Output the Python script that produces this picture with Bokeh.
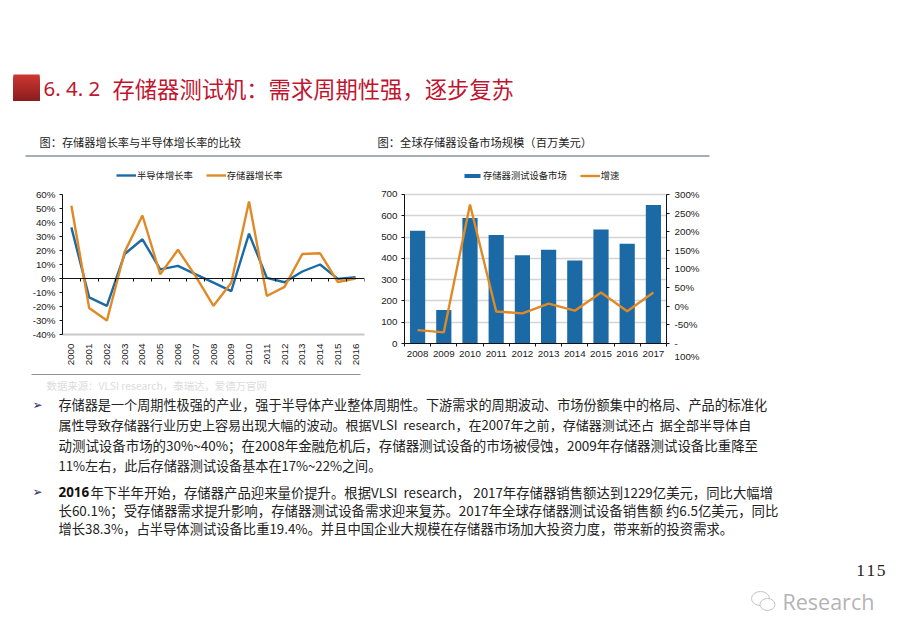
from bokeh.plotting import figure
from bokeh.layouts import column, row
from bokeh.models import Range1d, LinearAxis, FixedTicker, Legend, LegendItem, Grid
from bokeh.core.properties import value
from bokeh.embed import file_html
from bokeh.resources import INLINE

# ---- data ----
years_a = list(range(2000, 2017))
semi_growth = [36.5, -13.5, -19.5, 17.5, 28, 6.5, 9, 3, -3, -9, 32, 0.5, -2.7, 5, 10, -0.3, 1]
memory_growth = [52, -21, -30, 19, 45, 3, 20.5, 1.5, -19.5, -3, 55, -12.5, -6, 17.5, 18, -2.5, 0]
pct_ticks_a = [-40, -30, -20, -10, 0, 10, 20, 30, 40, 50, 60]

years_b = list(range(2008, 2018))
tester_market = [530, 157, 590, 510, 415, 440, 390, 535, 468, 650]
tester_growth = [-64, -70, 273, -14, -19, 7, -12, 37, -13.5, 37]
market_ticks = [0, 100, 200, 300, 400, 500, 600, 700]
pct_ticks_b = [-100, -50, 0, 50, 100, 150, 200, 250, 300]

title_num = "6. 4. 2"
title_text = "存储器测试机：需求周期性强，逐步复苏"
caption_a = "图：存储器增长率与半导体增长率的比较"
caption_b = "图：全球存储器设备市场规模（百万美元）"
source_text = "数据来源：VLSI research，泰瑞达，爱德万官网"
body_texts = [
    "存储器是一个周期性极强的产业，强于半导体产业整体周期性。下游需求的周期波动、市场份额集中的格局、产品的标准化",
    "属性导致存储器行业历史上容易出现大幅的波动。根据VLSI\u00a0\u00a0research，在2007年之前，存储器测试还占\u00a0\u00a0据全部半导体自",
    "动测试设备市场的30%~40%；在2008年金融危机后，存储器测试设备的市场被侵蚀，2009年存储器测试设备比重降至",
    "11%左右，此后存储器测试设备基本在17%~22%之间。",
    "年下半年开始，存储器产品迎来量价提升。根据VLSI\u00a0\u00a0research，\u00a02017年存储器销售额达到1229亿美元，同比大幅增",
    "长60.1%；受存储器需求提升影响，存储器测试设备需求迎来复苏。2017年全球存储器测试设备销售额\u00a0约6.5亿美元，同比",
    "增长38.3%，占半导体测试设备比重19.4%。并且中国企业大规模在存储器市场加大投资力度，带来新的投资需求。",
]
body_x = [58, 58, 58, 58, 90, 58, 58]
body_y = [404, 424, 444, 465, 491, 509, 528]
body_size = [13.14, 13.05, 13.45, 13.1, 13.37, 13.42, 13.3]

BLUE = "#1b6aa5"
ORANGE = "#df8a27"
CJK = "Noto Sans CJK SC"
LATIN = "Liberation Sans"
TXT = "#222222"
FS = "9.8px"


def canvas(y0, y1):
    f = figure(width=900, height=y1 - y0, x_range=Range1d(0, 900), y_range=Range1d(y1, y0),
               x_axis_type=None, y_axis_type=None, toolbar_location=None, output_backend="svg",
               min_border=0, outline_line_color=None, background_fill_color="white")
    f.grid.visible = False
    return f


def txt(f, x, y, s, size, color=TXT, font=CJK, style="normal", align="left"):
    f.text([x], [y], text=[s], text_font=value(font), text_font_size=size, text_color=color,
           text_baseline="middle", text_align=align, text_font_style=style)


def style_axis(ax):
    ax.major_label_text_font = LATIN
    ax.major_label_text_font_size = FS
    ax.major_label_text_color = "#1a1a1a"
    ax.axis_line_color = "#111111"
    ax.major_tick_line_color = "#111111"
    ax.minor_tick_line_color = "#111111"


# ---- header ----
top = canvas(0, 160)
for i in range(26):
    t = i / 25
    col = "#%02x%02x%02x" % (int(205 - 65 * t), int(55 - 25 * t), int(50 - 20 * t))
    top.quad(left=[13], right=[39], top=[74 + i], bottom=[100], fill_color=col, fill_alpha=1, line_color=None)
txt(top, 43, 87, title_num, "20.5px", "#c01530", "Noto Sans")
txt(top, 112, 87, title_text, "22.3px", "#c01530")
txt(top, 39, 141, caption_a, "11.2px")
txt(top, 377, 141, caption_b, "11.3px")
top.line([25, 709], [155.5, 155.5], line_color="#8a93a3", line_width=1.4)

# ---- left chart ----
a = figure(width=370, height=212, x_range=Range1d(1999.5, 2016.5), y_range=Range1d(-40, 80.7),
           x_axis_type=None, y_axis_type=None, toolbar_location=None, output_backend="svg",
           min_border_left=62, min_border_right=6, min_border_top=5, min_border_bottom=38,
           outline_line_color=None)
a.grid.visible = False
ya = LinearAxis(ticker=FixedTicker(ticks=pct_ticks_a, minor_ticks=[]), bounds=(-40, 60),
                major_label_overrides={v: f"{v}%" for v in pct_ticks_a})
style_axis(ya)
ya.major_tick_in = 0
ya.major_tick_out = 3
ya.major_label_standoff = 4
a.add_layout(ya, "left")

xa = LinearAxis(ticker=FixedTicker(ticks=years_a, minor_ticks=[]),
                major_label_overrides={v: str(v) for v in years_a})
style_axis(xa)
xa.axis_line_color = "#c8c8c8"
xa.axis_line_width = 2
xa.major_tick_line_color = None
xa.major_label_orientation = 1.5708
xa.major_label_standoff = 3
a.add_layout(xa, "below")

za = LinearAxis(fixed_location=0, ticker=FixedTicker(ticks=[], minor_ticks=[y + 0.5 for y in range(1999, 2017)]))
style_axis(za)
za.major_label_text_font_size = "0px"
za.minor_tick_in = 0
za.minor_tick_out = 3
a.add_layout(za, "below")

r1 = a.line(years_a, semi_growth, line_color=BLUE, line_width=2.4)
r2 = a.line(years_a, memory_growth, line_color=ORANGE, line_width=2.4)
lega = Legend(items=[LegendItem(label=value("半导体增长率"), renderers=[r1]),
                     LegendItem(label=value("存储器增长率"), renderers=[r2])],
              orientation="horizontal", location=(54, 152), border_line_color=None,
              background_fill_alpha=0, label_text_font=CJK, label_text_font_size="9.3px",
              label_text_color="#222222", glyph_width=20, glyph_height=6, label_standoff=1,
              spacing=13, padding=2, margin=0)
a.add_layout(lega, "center")

# ---- right chart ----
b = figure(width=340, height=212, x_range=Range1d(2007.5, 2017.5), y_range=Range1d(0, 836),
           x_axis_type=None, y_axis_type=None, toolbar_location=None, output_backend="svg",
           min_border_left=34, min_border_right=44, min_border_top=5, min_border_bottom=29,
           outline_line_color=None)
b.extra_y_ranges = {"g": Range1d(-100, 377.8)}
yb = LinearAxis(ticker=FixedTicker(ticks=market_ticks, minor_ticks=[]), bounds=(0, 700),
                major_label_overrides={v: str(v) for v in market_ticks})
style_axis(yb)
yb.major_tick_in = 0
yb.major_tick_out = 3
yb.major_label_standoff = 4
b.add_layout(yb, "left")
b.add_layout(Grid(dimension=1, ticker=yb.ticker, grid_line_color="#d4d4d4", grid_line_width=1.5))

yr = LinearAxis(y_range_name="g", ticker=FixedTicker(ticks=pct_ticks_b, minor_ticks=[]), bounds=(-100, 300),
                major_label_overrides={v: ("\n-\n100%" if v == -100 else f"{v}%") for v in pct_ticks_b})
style_axis(yr)
yr.major_tick_in = 0
yr.major_tick_out = 3
yr.major_label_standoff = 5
b.add_layout(yr, "right")

xb = LinearAxis(ticker=FixedTicker(ticks=years_b, minor_ticks=[y + 0.5 for y in range(2007, 2018)]),
                major_label_overrides={v: str(v) for v in years_b})
style_axis(xb)
xb.major_tick_line_color = None
xb.minor_tick_in = 0
xb.minor_tick_out = 3
xb.major_label_standoff = 1
b.add_layout(xb, "below")

r3 = b.vbar(x=years_b, top=tester_market, width=0.58, fill_color=BLUE, fill_alpha=1, line_color=None)
r4 = b.line(years_b, tester_growth, y_range_name="g", line_color=ORANGE, line_width=2.4)
legb = Legend(items=[LegendItem(label=value("存储器测试设备市场"), renderers=[r3]),
                     LegendItem(label=value("增速"), renderers=[r4])],
              orientation="horizontal", location=(58, 161), border_line_color=None,
              background_fill_alpha=0, label_text_font=CJK, label_text_font_size="9.3px",
              label_text_color="#222222", glyph_width=20, glyph_height=5, label_standoff=1,
              spacing=13, padding=2, margin=0)
b.add_layout(legb, "center")

# ---- footer ----
bot = canvas(372, 635)
bot.line([31, 360], [374, 374], line_color="#8a93a3", line_width=1.2)
txt(bot, 46, 385, source_text, "10.4px", "#dcdcdc")
for yy in (404, 491):
    txt(bot, 37, yy, "➢", "12px", "#1f2a6b", "DejaVu Sans", align="center")
for x, y, s, fs in zip(body_x, body_y, body_texts, body_size):
    txt(bot, x, y, s, f"{fs}px")
txt(bot, 58, 491, "2016", "13.4px", "#111111", "Noto Sans", "bold")
txt(bot, 885, 569, "1\u200a1\u200a5", "17.5px", "#222222", "Liberation Serif", align="right")
txt(bot, 782, 601, "Research", "21.5px", "#b4b4b4", "Open Sans")
bot.ellipse([760], [598], width=18, height=14, fill_color=None, line_color="#c4c4c4", line_width=1)
bot.ellipse([767], [604], width=15, height=12, fill_color="white", line_color="#c4c4c4", line_width=1)

page = column(top, row(column(a), column(b), spacing=0), bot, spacing=0)
open("out.html", "w").write(file_html(page, INLINE))
